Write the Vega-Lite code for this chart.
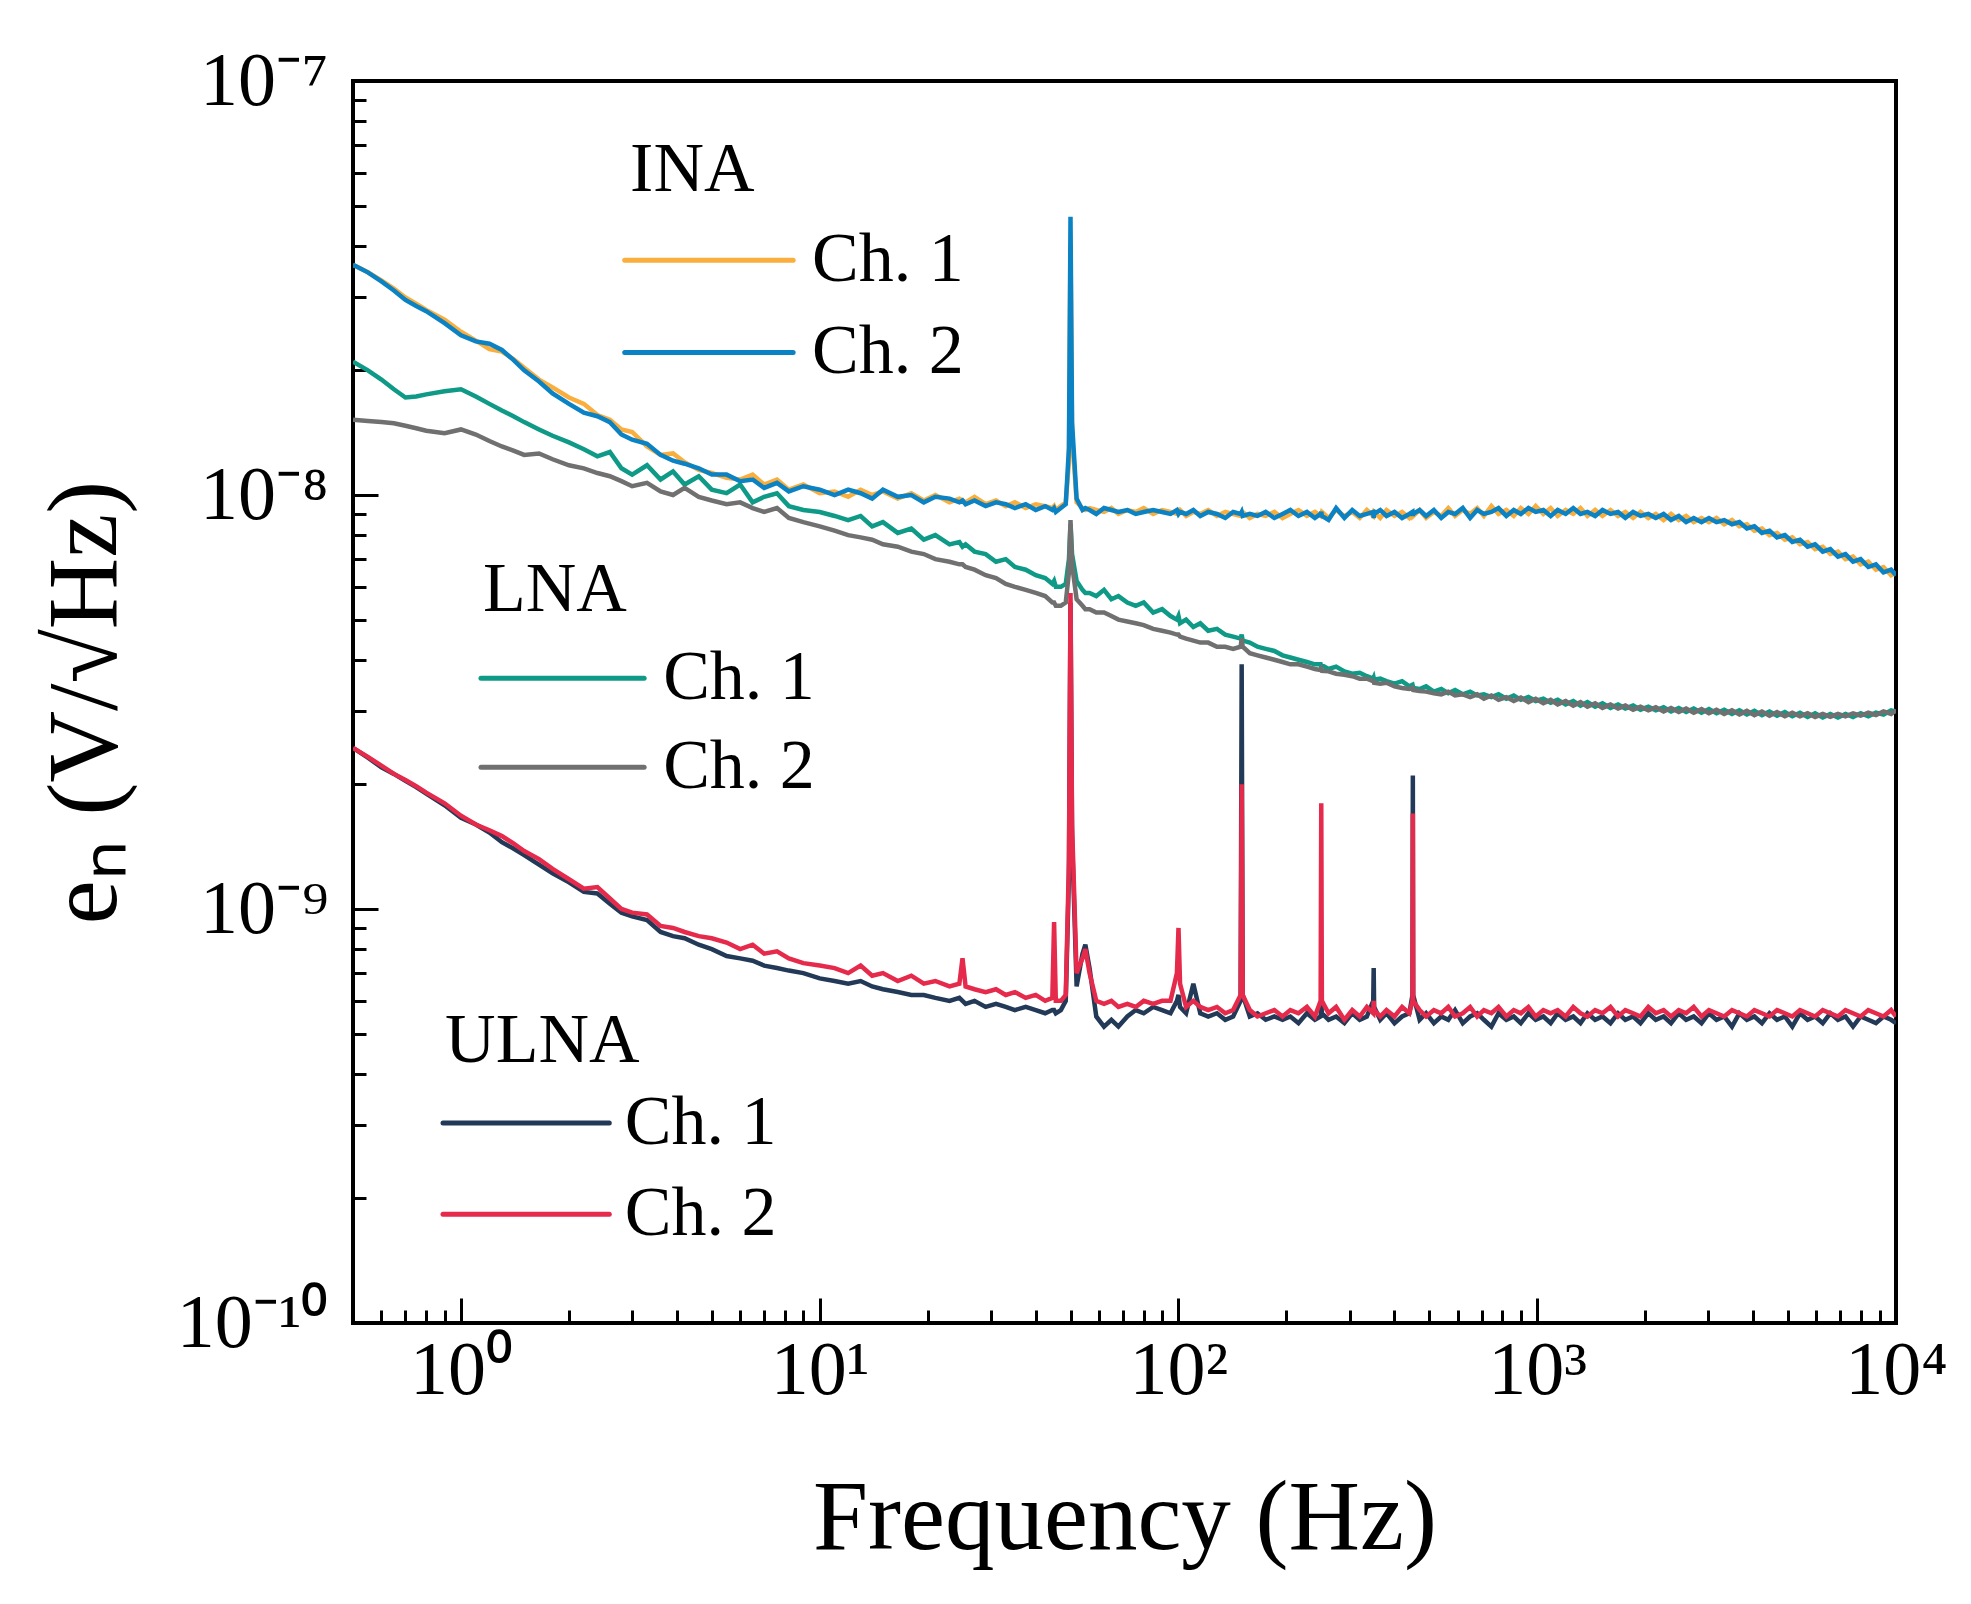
{
  "$schema": "https://vega.github.io/schema/vega-lite/v6.json",
  "width": 1543,
  "height": 1242,
  "autosize": "none",
  "padding": {"left": 353, "top": 81, "right": 75, "bottom": 281},
  "background": "white",
  "config": {
    "view": {"stroke": "#000000", "strokeWidth": 4},
    "axis": {
      "domain": false,
      "grid": false,
      "labelFlush": false,
      "labelOverlap": false,
      "tickColor": "#000000",
      "tickWidth": 3,
      "labelFont": "Liberation Serif",
      "labelFontSize": 76,
      "labelColor": "#000000",
      "titleFont": "Liberation Serif",
      "titleFontSize": 99,
      "titleFontWeight": "normal",
      "titleColor": "#000000"
    }
  },
  "datasets": {
    "curves": [
      {"f":0.5,"a":36e-9,"b":36e-9,"c":21e-9,"d":15.2e-9,"e":2.45e-9,"g":2.45e-9},
      {"f":0.55,"a":34.5e-9,"b":34.5e-9,"c":20e-9,"d":15.1e-9,"e":2.32e-9,"g":2.33e-9},
      {"f":0.6,"a":33e-9,"b":32.8e-9,"c":19e-9,"d":15e-9,"e":2.2e-9,"g":2.22e-9},
      {"f":0.65,"a":31.5e-9,"b":31.2e-9,"c":18e-9,"d":14.9e-9,"e":2.12e-9,"g":2.12e-9},
      {"f":0.7,"a":30e-9,"b":29.6e-9,"c":17.2e-9,"d":14.7e-9,"e":2.04e-9,"g":2.05e-9},
      {"f":0.75,"a":29e-9,"b":28.6e-9,"c":17.3e-9,"d":14.5e-9,"e":1.97e-9,"g":1.98e-9},
      {"f":0.8,"a":28e-9,"b":27.8e-9,"c":17.5e-9,"d":14.3e-9,"e":1.9e-9,"g":1.91e-9},
      {"f":0.9,"a":26.5e-9,"b":26e-9,"c":17.8e-9,"d":14.1e-9,"e":1.78e-9,"g":1.8e-9},
      {"f":1.0,"a":24.8e-9,"b":24.3e-9,"c":18e-9,"d":14.4e-9,"e":1.66e-9,"g":1.68e-9},
      {"f":1.1,"a":23.6e-9,"b":23.5e-9,"c":17.3e-9,"d":14e-9,"e":1.6e-9,"g":1.6e-9},
      {"f":1.2,"a":22.5e-9,"b":23.2e-9,"c":16.6e-9,"d":13.5e-9,"e":1.53e-9,"g":1.55e-9},
      {"f":1.3,"a":22.2e-9,"b":22.4e-9,"c":16e-9,"d":13.1e-9,"e":1.45e-9,"g":1.5e-9},
      {"f":1.4,"a":21.3e-9,"b":21.2e-9,"c":15.5e-9,"d":12.8e-9,"e":1.4e-9,"g":1.44e-9},
      {"f":1.5,"a":20.3e-9,"b":20e-9,"c":15e-9,"d":12.5e-9,"e":1.35e-9,"g":1.38e-9},
      {"f":1.65,"a":19e-9,"b":18.8e-9,"c":14.4e-9,"d":12.6e-9,"e":1.28e-9,"g":1.32e-9},
      {"f":1.8,"a":18.2e-9,"b":17.6e-9,"c":13.9e-9,"d":12.2e-9,"e":1.22e-9,"g":1.25e-9},
      {"f":2.0,"a":17.2e-9,"b":16.6e-9,"c":13.4e-9,"d":11.8e-9,"e":1.16e-9,"g":1.18e-9},
      {"f":2.2,"a":16.6e-9,"b":15.8e-9,"c":12.9e-9,"d":11.6e-9,"e":1.1e-9,"g":1.12e-9},
      {"f":2.4,"a":15.6e-9,"b":15.5e-9,"c":12.4e-9,"d":11.3e-9,"e":1.09e-9,"g":1.13e-9},
      {"f":2.6,"a":15.2e-9,"b":15e-9,"c":12.7e-9,"d":11.1e-9,"e":1.03e-9,"g":1.06e-9},
      {"f":2.8,"a":14.4e-9,"b":14e-9,"c":11.6e-9,"d":10.8e-9,"e":0.98e-9,"g":1.0e-9},
      {"f":3.0,"a":14.2e-9,"b":13.6e-9,"c":11.2e-9,"d":10.5e-9,"e":0.96e-9,"g":0.98e-9},
      {"f":3.3,"a":13.1e-9,"b":13.3e-9,"c":11.8e-9,"d":10.7e-9,"e":0.94e-9,"g":0.97e-9},
      {"f":3.6,"a":12.5e-9,"b":12.5e-9,"c":10.9e-9,"d":10.2e-9,"e":0.88e-9,"g":0.91e-9},
      {"f":3.9,"a":12.6e-9,"b":12.1e-9,"c":11.4e-9,"d":10e-9,"e":0.86e-9,"g":0.9e-9},
      {"f":4.2,"a":12e-9,"b":11.9e-9,"c":10.6e-9,"d":10.4e-9,"e":0.85e-9,"g":0.88e-9},
      {"f":4.6,"a":11.5e-9,"b":11.6e-9,"c":11.1e-9,"d":9.9e-9,"e":0.82e-9,"g":0.86e-9},
      {"f":5.0,"a":11.3e-9,"b":11.2e-9,"c":10.3e-9,"d":9.7e-9,"e":0.8e-9,"g":0.85e-9},
      {"f":5.5,"a":11e-9,"b":11.2e-9,"c":10.1e-9,"d":9.5e-9,"e":0.77e-9,"g":0.83e-9},
      {"f":6.0,"a":10.9e-9,"b":10.8e-9,"c":10.6e-9,"d":9.6e-9,"e":0.76e-9,"g":0.8e-9},
      {"f":6.5,"a":11.2e-9,"b":10.9e-9,"c":9.6e-9,"d":9.3e-9,"e":0.75e-9,"g":0.82e-9},
      {"f":7.0,"a":10.6e-9,"b":10.4e-9,"c":9.9e-9,"d":9.1e-9,"e":0.73e-9,"g":0.78e-9},
      {"f":7.6,"a":10.9e-9,"b":10.7e-9,"c":10.1e-9,"d":9.3e-9,"e":0.72e-9,"g":0.79e-9},
      {"f":8.2,"a":10.3e-9,"b":10.2e-9,"c":9.4e-9,"d":8.8e-9,"e":0.71e-9,"g":0.76e-9},
      {"f":9.0,"a":10.6e-9,"b":10.5e-9,"c":9.2e-9,"d":8.6e-9,"e":0.7e-9,"g":0.74e-9},
      {"f":10,"a":10.1e-9,"b":10.3e-9,"c":9.1e-9,"d":8.4e-9,"e":0.68e-9,"g":0.73e-9},
      {"f":11,"a":10.2e-9,"b":10e-9,"c":8.9e-9,"d":8.2e-9,"e":0.67e-9,"g":0.72e-9},
      {"f":12,"a":9.9e-9,"b":10.3e-9,"c":8.7e-9,"d":8e-9,"e":0.66e-9,"g":0.7e-9},
      {"f":13,"a":10.3e-9,"b":10.1e-9,"c":8.9e-9,"d":7.9e-9,"e":0.67e-9,"g":0.73e-9},
      {"f":14,"a":10e-9,"b":9.8e-9,"c":8.4e-9,"d":7.8e-9,"e":0.65e-9,"g":0.69e-9},
      {"f":15,"a":10.2e-9,"b":10.3e-9,"c":8.6e-9,"d":7.6e-9,"e":0.64e-9,"g":0.7e-9},
      {"f":16.5,"a":9.8e-9,"b":9.9e-9,"c":8.1e-9,"d":7.5e-9,"e":0.63e-9,"g":0.67e-9},
      {"f":18,"a":10.1e-9,"b":10e-9,"c":8.3e-9,"d":7.3e-9,"e":0.62e-9,"g":0.69e-9},
      {"f":19.5,"a":9.7e-9,"b":9.6e-9,"c":7.8e-9,"d":7.2e-9,"e":0.62e-9,"g":0.66e-9},
      {"f":21,"a":10e-9,"b":9.9e-9,"c":8e-9,"d":7e-9,"e":0.61e-9,"g":0.67e-9},
      {"f":23,"a":9.6e-9,"b":9.8e-9,"c":7.6e-9,"d":6.9e-9,"e":0.6e-9,"g":0.65e-9},
      {"f":24.5,"a":9.8e-9,"b":9.6e-9,"c":7.7e-9,"d":6.8e-9,"e":0.61e-9,"g":0.66e-9},
      {"f":25,"a":9.7e-9,"b":9.7e-9,"c":7.5e-9,"d":6.8e-9,"e":0.6e-9,"g":0.76e-9},
      {"f":25.5,"a":9.6e-9,"b":9.5e-9,"c":7.6e-9,"d":6.7e-9,"e":0.59e-9,"g":0.65e-9},
      {"f":27,"a":9.9e-9,"b":9.7e-9,"c":7.3e-9,"d":6.6e-9,"e":0.6e-9,"g":0.64e-9},
      {"f":29,"a":9.5e-9,"b":9.4e-9,"c":7.2e-9,"d":6.4e-9,"e":0.58e-9,"g":0.63e-9},
      {"f":31,"a":9.7e-9,"b":9.6e-9,"c":6.9e-9,"d":6.3e-9,"e":0.59e-9,"g":0.64e-9},
      {"f":33,"a":9.4e-9,"b":9.5e-9,"c":7e-9,"d":6.1e-9,"e":0.58e-9,"g":0.62e-9},
      {"f":35,"a":9.6e-9,"b":9.3e-9,"c":6.7e-9,"d":6e-9,"e":0.57e-9,"g":0.63e-9},
      {"f":37.5,"a":9.3e-9,"b":9.5e-9,"c":6.6e-9,"d":5.9e-9,"e":0.58e-9,"g":0.61e-9},
      {"f":40,"a":9.5e-9,"b":9.2e-9,"c":6.4e-9,"d":5.8e-9,"e":0.57e-9,"g":0.62e-9},
      {"f":42.5,"a":9.4e-9,"b":9.4e-9,"c":6.3e-9,"d":5.7e-9,"e":0.56e-9,"g":0.6e-9},
      {"f":44.5,"a":9.3e-9,"b":9.2e-9,"c":6.1e-9,"d":5.5e-9,"e":0.57e-9,"g":0.61e-9},
      {"f":45,"a":9.4e-9,"b":9.3e-9,"c":6.2e-9,"d":5.5e-9,"e":0.57e-9,"g":0.93e-9},
      {"f":45.5,"a":9.2e-9,"b":9.1e-9,"c":6e-9,"d":5.4e-9,"e":0.56e-9,"g":0.6e-9},
      {"f":47,"a":9.4e-9,"b":9.3e-9,"c":6e-9,"d":5.4e-9,"e":0.57e-9,"g":0.6e-9},
      {"f":48.5,"a":9.6e-9,"b":9.5e-9,"c":6.1e-9,"d":5.5e-9,"e":0.6e-9,"g":0.62e-9},
      {"f":49.5,"a":12e-9,"b":13e-9,"c":7e-9,"d":6.5e-9,"e":1.2e-9,"g":1.3e-9},
      {"f":50,"a":40e-9,"b":47e-9,"c":8.5e-9,"d":8.7e-9,"e":5.5e-9,"g":5.8e-9},
      {"f":50.5,"a":14e-9,"b":15e-9,"c":7.2e-9,"d":6.8e-9,"e":1.5e-9,"g":1.6e-9},
      {"f":52,"a":9.6e-9,"b":9.8e-9,"c":6.2e-9,"d":5.6e-9,"e":0.65e-9,"g":0.7e-9},
      {"f":54,"a":9.3e-9,"b":9.2e-9,"c":5.9e-9,"d":5.4e-9,"e":0.78e-9,"g":0.76e-9},
      {"f":55,"a":9.2e-9,"b":9.3e-9,"c":5.8e-9,"d":5.3e-9,"e":0.82e-9,"g":0.8e-9},
      {"f":56.5,"a":9.3e-9,"b":9.2e-9,"c":5.8e-9,"d":5.3e-9,"e":0.72e-9,"g":0.7e-9},
      {"f":59,"a":9.2e-9,"b":9e-9,"c":5.7e-9,"d":5.2e-9,"e":0.55e-9,"g":0.6e-9},
      {"f":62,"a":9.1e-9,"b":9.3e-9,"c":5.9e-9,"d":5.2e-9,"e":0.52e-9,"g":0.59e-9},
      {"f":65,"a":9.3e-9,"b":9.2e-9,"c":5.6e-9,"d":5.1e-9,"e":0.54e-9,"g":0.6e-9},
      {"f":68,"a":9e-9,"b":9.1e-9,"c":5.7e-9,"d":5e-9,"e":0.52e-9,"g":0.58e-9},
      {"f":72,"a":9.2e-9,"b":9.2e-9,"c":5.5e-9,"d":4.95e-9,"e":0.55e-9,"g":0.59e-9},
      {"f":76,"a":9.1e-9,"b":9e-9,"c":5.4e-9,"d":4.9e-9,"e":0.57e-9,"g":0.58e-9},
      {"f":80,"a":9.3e-9,"b":9.1e-9,"c":5.5e-9,"d":4.85e-9,"e":0.56e-9,"g":0.6e-9},
      {"f":85,"a":9e-9,"b":9.2e-9,"c":5.2e-9,"d":4.75e-9,"e":0.58e-9,"g":0.59e-9},
      {"f":90,"a":9.2e-9,"b":9.1e-9,"c":5.3e-9,"d":4.7e-9,"e":0.57e-9,"g":0.6e-9},
      {"f":95,"a":9.1e-9,"b":9e-9,"c":5.1e-9,"d":4.65e-9,"e":0.56e-9,"g":0.6e-9},
      {"f":99,"a":9e-9,"b":9.2e-9,"c":5e-9,"d":4.6e-9,"e":0.6e-9,"g":0.7e-9},
      {"f":100,"a":9.1e-9,"b":9e-9,"c":5.1e-9,"d":4.6e-9,"e":0.62e-9,"g":0.9e-9},
      {"f":101,"a":9.2e-9,"b":9.1e-9,"c":4.9e-9,"d":4.55e-9,"e":0.58e-9,"g":0.66e-9},
      {"f":105,"a":8.9e-9,"b":9e-9,"c":5e-9,"d":4.5e-9,"e":0.56e-9,"g":0.58e-9},
      {"f":110,"a":9.1e-9,"b":9.2e-9,"c":4.8e-9,"d":4.45e-9,"e":0.66e-9,"g":0.6e-9},
      {"f":115,"a":9e-9,"b":8.9e-9,"c":4.9e-9,"d":4.4e-9,"e":0.56e-9,"g":0.58e-9},
      {"f":121,"a":9.2e-9,"b":9.1e-9,"c":4.7e-9,"d":4.4e-9,"e":0.55e-9,"g":0.57e-9},
      {"f":128,"a":8.9e-9,"b":9e-9,"c":4.75e-9,"d":4.3e-9,"e":0.56e-9,"g":0.58e-9},
      {"f":135,"a":9.1e-9,"b":8.8e-9,"c":4.6e-9,"d":4.3e-9,"e":0.54e-9,"g":0.56e-9},
      {"f":142,"a":9e-9,"b":9.1e-9,"c":4.55e-9,"d":4.25e-9,"e":0.55e-9,"g":0.57e-9},
      {"f":149,"a":8.9e-9,"b":9e-9,"c":4.5e-9,"d":4.3e-9,"e":0.6e-9,"g":0.62e-9},
      {"f":150,"a":9e-9,"b":9.1e-9,"c":4.6e-9,"d":4.5e-9,"e":3.9e-9,"g":2.0e-9},
      {"f":151,"a":9.1e-9,"b":8.9e-9,"c":4.45e-9,"d":4.3e-9,"e":0.62e-9,"g":0.62e-9},
      {"f":158,"a":8.8e-9,"b":9e-9,"c":4.4e-9,"d":4.15e-9,"e":0.55e-9,"g":0.57e-9},
      {"f":166,"a":9e-9,"b":8.9e-9,"c":4.3e-9,"d":4.1e-9,"e":0.56e-9,"g":0.55e-9},
      {"f":175,"a":8.9e-9,"b":9.1e-9,"c":4.25e-9,"d":4.05e-9,"e":0.54e-9,"g":0.56e-9},
      {"f":185,"a":9.1e-9,"b":8.8e-9,"c":4.2e-9,"d":4e-9,"e":0.55e-9,"g":0.57e-9},
      {"f":195,"a":8.8e-9,"b":9e-9,"c":4.1e-9,"d":3.95e-9,"e":0.54e-9,"g":0.55e-9},
      {"f":205,"a":9e-9,"b":9.2e-9,"c":4.05e-9,"d":3.9e-9,"e":0.55e-9,"g":0.57e-9},
      {"f":216,"a":9.2e-9,"b":8.9e-9,"c":4e-9,"d":3.9e-9,"e":0.53e-9,"g":0.56e-9},
      {"f":228,"a":8.9e-9,"b":9.1e-9,"c":3.95e-9,"d":3.85e-9,"e":0.56e-9,"g":0.58e-9},
      {"f":240,"a":9.1e-9,"b":8.8e-9,"c":3.9e-9,"d":3.8e-9,"e":0.54e-9,"g":0.55e-9},
      {"f":249,"a":8.9e-9,"b":9e-9,"c":3.9e-9,"d":3.78e-9,"e":0.55e-9,"g":0.6e-9},
      {"f":250,"a":9e-9,"b":9.1e-9,"c":3.85e-9,"d":3.8e-9,"e":0.6e-9,"g":1.8e-9},
      {"f":251,"a":9.1e-9,"b":8.9e-9,"c":3.88e-9,"d":3.76e-9,"e":0.56e-9,"g":0.6e-9},
      {"f":262,"a":8.8e-9,"b":8.7e-9,"c":3.8e-9,"d":3.75e-9,"e":0.54e-9,"g":0.56e-9},
      {"f":275,"a":9.2e-9,"b":9.3e-9,"c":3.85e-9,"d":3.7e-9,"e":0.55e-9,"g":0.58e-9},
      {"f":290,"a":8.9e-9,"b":8.8e-9,"c":3.75e-9,"d":3.68e-9,"e":0.53e-9,"g":0.54e-9},
      {"f":305,"a":9.1e-9,"b":9.2e-9,"c":3.7e-9,"d":3.65e-9,"e":0.56e-9,"g":0.57e-9},
      {"f":320,"a":8.8e-9,"b":8.9e-9,"c":3.72e-9,"d":3.6e-9,"e":0.54e-9,"g":0.55e-9},
      {"f":335,"a":9.2e-9,"b":9e-9,"c":3.65e-9,"d":3.6e-9,"e":0.55e-9,"g":0.58e-9},
      {"f":349,"a":8.9e-9,"b":9.1e-9,"c":3.6e-9,"d":3.55e-9,"e":0.6e-9,"g":0.56e-9},
      {"f":350,"a":9e-9,"b":8.8e-9,"c":3.62e-9,"d":3.58e-9,"e":0.72e-9,"g":0.6e-9},
      {"f":351,"a":9.1e-9,"b":9e-9,"c":3.58e-9,"d":3.52e-9,"e":0.58e-9,"g":0.57e-9},
      {"f":365,"a":8.8e-9,"b":9.2e-9,"c":3.6e-9,"d":3.5e-9,"e":0.54e-9,"g":0.55e-9},
      {"f":380,"a":9.2e-9,"b":8.9e-9,"c":3.55e-9,"d":3.52e-9,"e":0.56e-9,"g":0.57e-9},
      {"f":400,"a":8.9e-9,"b":9.1e-9,"c":3.5e-9,"d":3.45e-9,"e":0.53e-9,"g":0.55e-9},
      {"f":420,"a":9.1e-9,"b":8.8e-9,"c":3.55e-9,"d":3.42e-9,"e":0.55e-9,"g":0.58e-9},
      {"f":440,"a":8.8e-9,"b":9e-9,"c":3.45e-9,"d":3.4e-9,"e":0.56e-9,"g":0.56e-9},
      {"f":449,"a":9e-9,"b":9.1e-9,"c":3.48e-9,"d":3.42e-9,"e":0.62e-9,"g":0.6e-9},
      {"f":450,"a":9.1e-9,"b":8.9e-9,"c":3.45e-9,"d":3.4e-9,"e":2.1e-9,"g":1.7e-9},
      {"f":451,"a":8.9e-9,"b":9e-9,"c":3.42e-9,"d":3.38e-9,"e":0.62e-9,"g":0.6e-9},
      {"f":470,"a":9.2e-9,"b":9.2e-9,"c":3.4e-9,"d":3.36e-9,"e":0.54e-9,"g":0.57e-9},
      {"f":490,"a":8.8e-9,"b":8.9e-9,"c":3.45e-9,"d":3.35e-9,"e":0.56e-9,"g":0.55e-9},
      {"f":515,"a":9.1e-9,"b":9.2e-9,"c":3.35e-9,"d":3.32e-9,"e":0.53e-9,"g":0.57e-9},
      {"f":540,"a":8.9e-9,"b":8.8e-9,"c":3.4e-9,"d":3.3e-9,"e":0.55e-9,"g":0.56e-9},
      {"f":565,"a":9.3e-9,"b":9.1e-9,"c":3.32e-9,"d":3.35e-9,"e":0.54e-9,"g":0.58e-9},
      {"f":590,"a":8.9e-9,"b":9e-9,"c":3.38e-9,"d":3.28e-9,"e":0.57e-9,"g":0.55e-9},
      {"f":620,"a":9.2e-9,"b":9.3e-9,"c":3.3e-9,"d":3.3e-9,"e":0.53e-9,"g":0.56e-9},
      {"f":650,"a":9e-9,"b":8.8e-9,"c":3.35e-9,"d":3.25e-9,"e":0.55e-9,"g":0.58e-9},
      {"f":680,"a":9.3e-9,"b":9.2e-9,"c":3.28e-9,"d":3.3e-9,"e":0.56e-9,"g":0.55e-9},
      {"f":710,"a":8.9e-9,"b":9e-9,"c":3.3e-9,"d":3.22e-9,"e":0.54e-9,"g":0.57e-9},
      {"f":745,"a":9.4e-9,"b":9.1e-9,"c":3.25e-9,"d":3.28e-9,"e":0.52e-9,"g":0.56e-9},
      {"f":780,"a":9e-9,"b":9.3e-9,"c":3.3e-9,"d":3.2e-9,"e":0.56e-9,"g":0.58e-9},
      {"f":820,"a":9.2e-9,"b":8.9e-9,"c":3.22e-9,"d":3.25e-9,"e":0.54e-9,"g":0.55e-9},
      {"f":860,"a":8.9e-9,"b":9.2e-9,"c":3.28e-9,"d":3.18e-9,"e":0.55e-9,"g":0.57e-9},
      {"f":900,"a":9.3e-9,"b":9e-9,"c":3.2e-9,"d":3.24e-9,"e":0.53e-9,"g":0.56e-9},
      {"f":945,"a":9e-9,"b":9.3e-9,"c":3.25e-9,"d":3.16e-9,"e":0.56e-9,"g":0.58e-9},
      {"f":990,"a":9.4e-9,"b":9.1e-9,"c":3.18e-9,"d":3.22e-9,"e":0.54e-9,"g":0.55e-9},
      {"f":1040,"a":9e-9,"b":9.2e-9,"c":3.22e-9,"d":3.14e-9,"e":0.55e-9,"g":0.57e-9},
      {"f":1090,"a":9.3e-9,"b":8.9e-9,"c":3.15e-9,"d":3.2e-9,"e":0.53e-9,"g":0.56e-9},
      {"f":1140,"a":8.9e-9,"b":9.2e-9,"c":3.2e-9,"d":3.12e-9,"e":0.56e-9,"g":0.57e-9},
      {"f":1200,"a":9.2e-9,"b":9e-9,"c":3.12e-9,"d":3.18e-9,"e":0.54e-9,"g":0.55e-9},
      {"f":1260,"a":9e-9,"b":9.3e-9,"c":3.18e-9,"d":3.1e-9,"e":0.55e-9,"g":0.58e-9},
      {"f":1320,"a":9.3e-9,"b":9e-9,"c":3.1e-9,"d":3.16e-9,"e":0.53e-9,"g":0.56e-9},
      {"f":1380,"a":8.9e-9,"b":9.1e-9,"c":3.16e-9,"d":3.08e-9,"e":0.56e-9,"g":0.55e-9},
      {"f":1450,"a":9.2e-9,"b":8.9e-9,"c":3.08e-9,"d":3.14e-9,"e":0.54e-9,"g":0.57e-9},
      {"f":1520,"a":8.9e-9,"b":9.2e-9,"c":3.14e-9,"d":3.06e-9,"e":0.55e-9,"g":0.56e-9},
      {"f":1600,"a":9.2e-9,"b":9e-9,"c":3.06e-9,"d":3.12e-9,"e":0.53e-9,"g":0.58e-9},
      {"f":1680,"a":8.9e-9,"b":9.1e-9,"c":3.12e-9,"d":3.05e-9,"e":0.56e-9,"g":0.55e-9},
      {"f":1760,"a":9.1e-9,"b":8.8e-9,"c":3.05e-9,"d":3.1e-9,"e":0.54e-9,"g":0.57e-9},
      {"f":1850,"a":8.8e-9,"b":9.1e-9,"c":3.1e-9,"d":3.03e-9,"e":0.55e-9,"g":0.56e-9},
      {"f":1940,"a":9.1e-9,"b":8.9e-9,"c":3.03e-9,"d":3.08e-9,"e":0.53e-9,"g":0.55e-9},
      {"f":2040,"a":8.8e-9,"b":9e-9,"c":3.08e-9,"d":3.02e-9,"e":0.56e-9,"g":0.58e-9},
      {"f":2140,"a":9e-9,"b":8.8e-9,"c":3.02e-9,"d":3.07e-9,"e":0.54e-9,"g":0.56e-9},
      {"f":2250,"a":8.7e-9,"b":9e-9,"c":3.07e-9,"d":3e-9,"e":0.55e-9,"g":0.57e-9},
      {"f":2360,"a":9e-9,"b":8.7e-9,"c":3e-9,"d":3.06e-9,"e":0.53e-9,"g":0.55e-9},
      {"f":2480,"a":8.7e-9,"b":8.9e-9,"c":3.06e-9,"d":2.99e-9,"e":0.56e-9,"g":0.57e-9},
      {"f":2600,"a":8.9e-9,"b":8.6e-9,"c":2.99e-9,"d":3.05e-9,"e":0.54e-9,"g":0.56e-9},
      {"f":2730,"a":8.6e-9,"b":8.8e-9,"c":3.05e-9,"d":2.98e-9,"e":0.55e-9,"g":0.58e-9},
      {"f":2870,"a":8.8e-9,"b":8.6e-9,"c":2.98e-9,"d":3.04e-9,"e":0.53e-9,"g":0.55e-9},
      {"f":3010,"a":8.6e-9,"b":8.8e-9,"c":3.04e-9,"d":2.97e-9,"e":0.56e-9,"g":0.57e-9},
      {"f":3160,"a":8.8e-9,"b":8.6e-9,"c":2.97e-9,"d":3.03e-9,"e":0.54e-9,"g":0.56e-9},
      {"f":3320,"a":8.5e-9,"b":8.7e-9,"c":3.03e-9,"d":2.96e-9,"e":0.55e-9,"g":0.55e-9},
      {"f":3490,"a":8.7e-9,"b":8.5e-9,"c":2.96e-9,"d":3.02e-9,"e":0.52e-9,"g":0.57e-9},
      {"f":3660,"a":8.4e-9,"b":8.6e-9,"c":3.02e-9,"d":2.95e-9,"e":0.56e-9,"g":0.56e-9},
      {"f":3840,"a":8.5e-9,"b":8.3e-9,"c":2.95e-9,"d":3.01e-9,"e":0.54e-9,"g":0.55e-9},
      {"f":4030,"a":8.2e-9,"b":8.4e-9,"c":3.01e-9,"d":2.94e-9,"e":0.55e-9,"g":0.57e-9},
      {"f":4230,"a":8.3e-9,"b":8.1e-9,"c":2.94e-9,"d":3e-9,"e":0.53e-9,"g":0.56e-9},
      {"f":4440,"a":8e-9,"b":8.2e-9,"c":3e-9,"d":2.93e-9,"e":0.56e-9,"g":0.55e-9},
      {"f":4660,"a":8.1e-9,"b":7.9e-9,"c":2.93e-9,"d":2.99e-9,"e":0.54e-9,"g":0.57e-9},
      {"f":4900,"a":7.8e-9,"b":8e-9,"c":2.99e-9,"d":2.92e-9,"e":0.55e-9,"g":0.56e-9},
      {"f":5140,"a":7.9e-9,"b":7.7e-9,"c":2.92e-9,"d":2.98e-9,"e":0.52e-9,"g":0.55e-9},
      {"f":5400,"a":7.6e-9,"b":7.8e-9,"c":2.98e-9,"d":2.92e-9,"e":0.56e-9,"g":0.57e-9},
      {"f":5670,"a":7.7e-9,"b":7.5e-9,"c":2.91e-9,"d":2.97e-9,"e":0.54e-9,"g":0.56e-9},
      {"f":5950,"a":7.4e-9,"b":7.6e-9,"c":2.97e-9,"d":2.91e-9,"e":0.55e-9,"g":0.55e-9},
      {"f":6250,"a":7.5e-9,"b":7.3e-9,"c":2.9e-9,"d":2.96e-9,"e":0.53e-9,"g":0.57e-9},
      {"f":6560,"a":7.2e-9,"b":7.4e-9,"c":2.96e-9,"d":2.91e-9,"e":0.56e-9,"g":0.56e-9},
      {"f":6890,"a":7.3e-9,"b":7.1e-9,"c":2.9e-9,"d":2.96e-9,"e":0.54e-9,"g":0.55e-9},
      {"f":7230,"a":7e-9,"b":7.2e-9,"c":2.96e-9,"d":2.92e-9,"e":0.55e-9,"g":0.57e-9},
      {"f":7590,"a":7.1e-9,"b":6.9e-9,"c":2.91e-9,"d":2.97e-9,"e":0.52e-9,"g":0.56e-9},
      {"f":7970,"a":6.8e-9,"b":7e-9,"c":2.97e-9,"d":2.93e-9,"e":0.55e-9,"g":0.55e-9},
      {"f":8370,"a":6.9e-9,"b":6.7e-9,"c":2.92e-9,"d":2.98e-9,"e":0.54e-9,"g":0.57e-9},
      {"f":8790,"a":6.6e-9,"b":6.8e-9,"c":2.98e-9,"d":2.94e-9,"e":0.53e-9,"g":0.56e-9},
      {"f":9230,"a":6.7e-9,"b":6.5e-9,"c":2.95e-9,"d":3e-9,"e":0.55e-9,"g":0.55e-9},
      {"f":9690,"a":6.4e-9,"b":6.6e-9,"c":3.02e-9,"d":2.96e-9,"e":0.54e-9,"g":0.57e-9},
      {"f":10000,"a":6.5e-9,"b":6.4e-9,"c":3e-9,"d":3.02e-9,"e":0.53e-9,"g":0.55e-9}
    ],
    "legendLines": [
      {"x1":2.86,"x2":8.43,"y":3.69e-8,"col":"#F9AE3E"},
      {"x1":2.86,"x2":8.43,"y":2.21e-8,"col":"#0A82C4"},
      {"x1":1.137,"x2":3.24,"y":3.61e-9,"col":"#0E9A86"},
      {"x1":1.137,"x2":3.24,"y":2.2e-9,"col":"#707070"},
      {"x1":0.891,"x2":2.59,"y":3.04e-10,"col":"#223A57"},
      {"x1":0.891,"x2":2.59,"y":1.83e-10,"col":"#E52A4B"}
    ],
    "legendText": [
      {"x":2.96,"y":6.1e-8,"t":"INA"},
      {"x":9.52,"y":3.69e-8,"t":"Ch. 1"},
      {"x":9.52,"y":2.21e-8,"t":"Ch. 2"},
      {"x":1.152,"y":5.89e-9,"t":"LNA"},
      {"x":3.66,"y":3.61e-9,"t":"Ch. 1"},
      {"x":3.66,"y":2.2e-9,"t":"Ch. 2"},
      {"x":0.903,"y":4.8e-10,"t":"ULNA"},
      {"x":2.86,"y":3.04e-10,"t":"Ch. 1"},
      {"x":2.86,"y":1.83e-10,"t":"Ch. 2"}
    ]
  },
  "data": {"name": "curves"},
  "encoding": {
    "x": {
      "field": "f",
      "type": "quantitative",
      "scale": {"type": "log", "domain": [0.5, 10000], "nice": false},
      "axis": {
        "title": "Frequency (Hz)",
        "titlePadding": 50,
        "labelPadding": 35,
        "values": [0.6,0.7,0.8,0.9,1,2,3,4,5,6,7,8,9,10,20,30,40,50,60,70,80,90,100,200,300,400,500,600,700,800,900,1000,2000,3000,4000,5000,6000,7000,8000,9000,10000],
        "tickSize": {"condition": {"test": "abs(log(datum.value)/LN10 - round(log(datum.value)/LN10)) < 0.01", "value": -25}, "value": -13},
        "labelExpr": "abs(log(datum.value)/LN10 - round(log(datum.value)/LN10)) < 0.01 ? '10' + substring('⁰¹²³⁴⁵⁶⁷⁸⁹', round(log(datum.value)/LN10), round(log(datum.value)/LN10) + 1) : ''"
      }
    }
  },
  "layer": [
    {
      "mark": {"type": "line", "color": "#0E9A86", "strokeWidth": 4.5, "clip": true},
      "encoding": {
        "y": {
          "field": "c",
          "type": "quantitative",
          "scale": {"type": "log", "domain": [1e-10, 1e-7], "nice": false},
          "axis": {
            "title": "eₙ (V/√Hz)",
            "titlePadding": 40,
            "labelPadding": 50,
            "values": [2e-10,3e-10,4e-10,5e-10,6e-10,7e-10,8e-10,9e-10,1e-9,2e-9,3e-9,4e-9,5e-9,6e-9,7e-9,8e-9,9e-9,1e-8,2e-8,3e-8,4e-8,5e-8,6e-8,7e-8,8e-8,9e-8,1e-7,1e-10],
            "tickSize": {"condition": {"test": "abs(log(datum.value)/LN10 - round(log(datum.value)/LN10)) < 0.01", "value": -25}, "value": -13},
            "labelExpr": "abs(log(datum.value)/LN10 - round(log(datum.value)/LN10)) < 0.01 ? '10⁻' + (round(log(datum.value)/LN10) == -10 ? '¹⁰' : substring('⁰¹²³⁴⁵⁶⁷⁸⁹', -round(log(datum.value)/LN10), -round(log(datum.value)/LN10) + 1)) : ''"
          }
        }
      }
    },
    {
      "mark": {"type": "line", "color": "#707070", "strokeWidth": 4.5, "clip": true},
      "encoding": {"y": {"field": "d", "type": "quantitative", "scale": {"type": "log", "domain": [1e-10, 1e-7], "nice": false}}}
    },
    {
      "mark": {"type": "line", "color": "#223A57", "strokeWidth": 4.5, "clip": true},
      "encoding": {"y": {"field": "e", "type": "quantitative", "scale": {"type": "log", "domain": [1e-10, 1e-7], "nice": false}}}
    },
    {
      "mark": {"type": "line", "color": "#E52A4B", "strokeWidth": 4.5, "clip": true},
      "encoding": {"y": {"field": "g", "type": "quantitative", "scale": {"type": "log", "domain": [1e-10, 1e-7], "nice": false}}}
    },
    {
      "mark": {"type": "line", "color": "#F9AE3E", "strokeWidth": 4.5, "clip": true},
      "encoding": {"y": {"field": "a", "type": "quantitative", "scale": {"type": "log", "domain": [1e-10, 1e-7], "nice": false}}}
    },
    {
      "mark": {"type": "line", "color": "#0A82C4", "strokeWidth": 4.5, "clip": true},
      "encoding": {"y": {"field": "b", "type": "quantitative", "scale": {"type": "log", "domain": [1e-10, 1e-7], "nice": false}}}
    },
    {
      "data": {"name": "legendLines"},
      "mark": {"type": "rule", "strokeWidth": 5, "strokeCap": "round"},
      "encoding": {
        "x": {"field": "x1", "type": "quantitative", "scale": {"type": "log", "domain": [0.5, 10000], "nice": false}},
        "x2": {"field": "x2"},
        "y": {"field": "y", "type": "quantitative", "scale": {"type": "log", "domain": [1e-10, 1e-7], "nice": false}},
        "color": {"field": "col", "type": "nominal", "scale": null}
      }
    },
    {
      "data": {"name": "legendText"},
      "mark": {"type": "text", "align": "left", "baseline": "middle", "font": "Liberation Serif", "fontSize": 70, "color": "#000000"},
      "encoding": {
        "x": {"field": "x", "type": "quantitative", "scale": {"type": "log", "domain": [0.5, 10000], "nice": false}},
        "y": {"field": "y", "type": "quantitative", "scale": {"type": "log", "domain": [1e-10, 1e-7], "nice": false}},
        "text": {"field": "t"}
      }
    }
  ]
}
